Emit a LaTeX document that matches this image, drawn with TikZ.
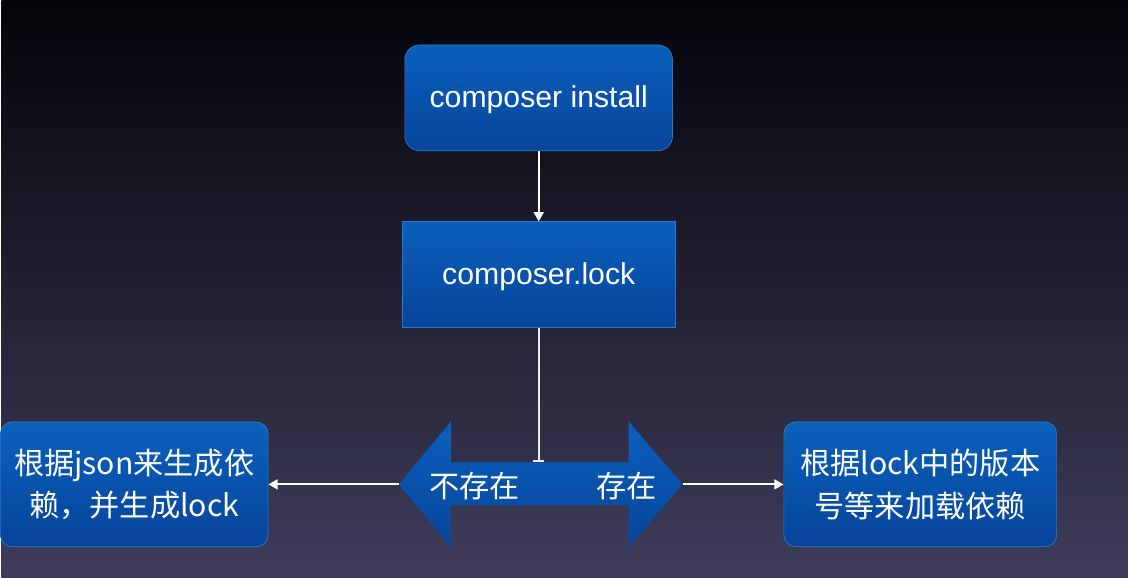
\documentclass[tikz,border=0pt]{standalone}
\usepackage{fontspec}
\setmainfont{Liberation Sans}
\newfontfamily\cjk{Noto Sans CJK SC}
\usetikzlibrary{arrows.meta,positioning}
\definecolor{boxtop}{RGB}{10,96,188}
\definecolor{boxbot}{RGB}{6,68,154}
\definecolor{bgtop}{RGB}{4,4,10}
\definecolor{bgmid}{RGB}{20,20,36}
\definecolor{bgbot}{RGB}{62,60,90}
\begin{document}
\begin{tikzpicture}[x=0.025cm,y=-0.025cm,
  box/.style={top color=boxtop,bottom color=boxbot,draw=boxtop!85!white,line width=0.5pt,
    text=white,align=center,inner sep=0pt,font=\fontsize{21.5pt}{30.5pt}\selectfont},
  link/.style={white,line width=1.4pt,-{Triangle[length=6.5pt,width=7pt]}}]
  \shade[top color=bgtop,middle color=bgmid,bottom color=bgbot] (0,0) rectangle (1128,578);

  \node[box,rounded corners=0.375cm,minimum width=6.7cm,minimum height=2.65cm,text depth=0.05cm] (install) at (538,98) {composer install};
  \node[box,minimum width=6.85cm,minimum height=2.65cm,text depth=0.05cm] (lockf) at (538,275) {composer.lock};
  \node[box,rounded corners=0.3cm,minimum width=6.7cm,minimum height=3.125cm] (fromjson) at (133,485)
    {\cjk{根据}json\cjk{来生成依}\\\cjk{赖，并生成}lock};
  \node[box,rounded corners=0.3cm,minimum width=6.825cm,minimum height=3.125cm] (fromlock) at (920,485)
    {\cjk{根据}lock\cjk{中的版本}\\\cjk{号等来加载依赖}};

  % double arrow
  \path[top color=boxtop,bottom color=boxbot] (398,485) -- (450,422) -- (450,463) -- (628,463) -- (628,422)
    -- (682,485) -- (628,548) -- (628,506) -- (450,506) -- (450,548) -- cycle;
  \coordinate (nolock) at (398,485);
  \coordinate (haslock) at (682,485);
  \coordinate (check) at (538,463);
  \node[text=white,font=\fontsize{21.5pt}{30.5pt}\cjk] (notexist) at (474,487) {不存在};
  \node[text=white,font=\fontsize{21.5pt}{30.5pt}\cjk] (exist) at (626,487) {存在};

  \draw[link] (install) -- (lockf);
  \draw[white!85!gray,line width=1.4pt,-{Bar[width=8pt,line width=1.6pt]}] (lockf) -- (check);
  \draw[link] (nolock) -- (fromjson);
  \draw[link] (haslock) -- (fromlock);
\end{tikzpicture}
\end{document}
